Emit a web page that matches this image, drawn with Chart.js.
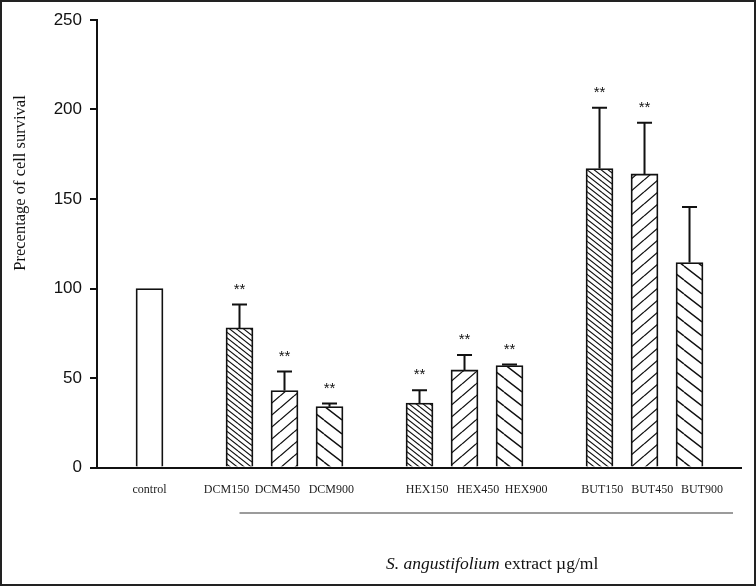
<!DOCTYPE html>
<html>
<head>
<meta charset="utf-8">
<script src="https://cdn.jsdelivr.net/npm/chart.js@4/dist/chart.umd.min.js"></script>
<style>
  html, body { margin: 0; padding: 0; background: #fff; }
  #wrap { width: 756px; height: 586px; }
</style>
</head>
<body>
<div id="wrap"><canvas id="c" width="756" height="586"></canvas></div>
<script>
// ---- data (blank categories are the gaps between extract groups) ----
const categories = ['control', '', 'DCM150', 'DCM450', 'DCM900', '', 'HEX150', 'HEX450', 'HEX900', '', 'BUT150', 'BUT450', 'BUT900'];
const survival   = [100, null, 78, 43, 34, null, 36, 54.5, 57, null, 167, 164, 114.5];
const sem        = [0, null, 13, 10.7, 1.7, null, 7.1, 8.4, 0.5, null, 34, 28.6, 31];
const signif     = ['', null, '**', '**', '**', null, '**', '**', '**', null, '**', '**', ''];
const yTicks     = [0, 50, 100, 150, 200, 250];
const yTitle     = 'Precentage of cell survival';
const xTitleItalic = 'S. angustifolium';
const xTitleRest   = ' extract \u00b5g/ml';

// layout only: horizontal nudge of each category label (in slot units), as typeset in the original
const labelNudge = [0, 0, -0.29, -0.16, 0.04, 0, 0.17, 0.3, 0.37, 0, 0.06, 0.17, 0.28];

const canvas = document.getElementById('c');
const ctx0 = canvas.getContext('2d');

function hatchPattern(w, h, n, dir, lw) {
  const c = document.createElement('canvas');
  c.width = w; c.height = h;
  const g = c.getContext('2d');
  g.fillStyle = '#fff'; g.fillRect(0, 0, w, h);
  g.strokeStyle = '#111'; g.lineWidth = lw;
  g.beginPath();
  for (let k = -n; k <= 2 * n; k++) {
    const c0 = k * h / n;
    if (dir === 'back') { g.moveTo(0, c0); g.lineTo(w, c0 + h); }
    else { g.moveTo(0, c0 + h); g.lineTo(w, c0); }
  }
  g.stroke();
  return ctx0.createPattern(c, 'repeat');
}
const patterns = {
  '150': hatchPattern(14, 11, 2, 'back', 1.1),
  '450': hatchPattern(14, 12, 1, 'fwd', 1.3),
  '900': hatchPattern(18, 14, 1, 'back', 1.4)
};
function fillFor(label) {
  const dose = label.replace(/^[A-Z]+/, '');
  return patterns[dose] || '#ffffff';
}

const points = categories.map((lab, i) => ({ x: i, y: survival[i] }));
const fills = categories.map(l => fillFor(l));
const labelIdx = categories.map((c, i) => i).filter(i => categories[i]);

const overlay = {
  id: 'overlay',
  afterDatasetsDraw(chart) {
    const { ctx, scales: { x, y } } = chart;
    const meta = chart.getDatasetMeta(0);
    ctx.save();
    ctx.strokeStyle = '#111';
    ctx.lineWidth = 2;
    meta.data.forEach((bar, i) => {
      if (survival[i] == null) return;
      let topY = bar.y;
      const e = sem[i];
      if (e > 0) {
        topY = y.getPixelForValue(survival[i] + e);
        ctx.beginPath();
        ctx.moveTo(bar.x, bar.y);
        ctx.lineTo(bar.x, topY);
        ctx.moveTo(bar.x - 7.5, topY);
        ctx.lineTo(bar.x + 7.5, topY);
        ctx.stroke();
      }
      if (signif[i]) {
        ctx.fillStyle = '#111';
        ctx.font = '15px "Liberation Sans"';
        ctx.textAlign = 'center';
        ctx.textBaseline = 'middle';
        ctx.fillText(signif[i], bar.x, topY - 15);
      }
    });
    ctx.restore();
  },
  afterDraw(chart) {
    const { ctx, chartArea, scales: { x } } = chart;
    ctx.save();
    // group underline
    ctx.strokeStyle = '#7a7a7a';
    ctx.lineWidth = 1.5;
    ctx.beginPath();
    ctx.moveTo(x.getPixelForValue(2), chartArea.bottom + 45.5);
    ctx.lineTo(x.getPixelForValue(12) + 43.5, chartArea.bottom + 45.5);
    ctx.stroke();
    // y title
    ctx.fillStyle = '#111';
    ctx.font = '16.5px "Liberation Serif"';
    ctx.textAlign = 'center';
    ctx.textBaseline = 'middle';
    ctx.translate(21, 183);
    ctx.rotate(-Math.PI / 2);
    ctx.fillText(yTitle, 0, 0);
    ctx.setTransform(1, 0, 0, 1, 0, 0);
    // x title
    ctx.textAlign = 'left';
    ctx.textBaseline = 'alphabetic';
    ctx.font = 'italic 17.5px "Liberation Serif"';
    const left = 386, base = 569;
    ctx.fillText(xTitleItalic, left, base);
    const w1 = ctx.measureText(xTitleItalic).width;
    ctx.font = '17.5px "Liberation Serif"';
    ctx.fillText(xTitleRest, left + w1, base);
    // image frame
    ctx.strokeStyle = '#222';
    ctx.lineWidth = 2;
    ctx.strokeRect(1, 1, 754, 584);
    ctx.restore();
  }
};

new Chart(canvas, {
  type: 'bar',
  data: {
    datasets: [{
      data: points,
      backgroundColor: fills,
      borderColor: '#111',
      borderWidth: 1.8,
      barThickness: 27
    }]
  },
  options: {
    responsive: false,
    animation: false,
    events: [],
    layout: { padding: { left: 0, right: 15, top: 20, bottom: 0 } },
    plugins: { legend: { display: false }, tooltip: { enabled: false } },
    scales: {
      x: {
        type: 'linear',
        offset: false,
        min: -1.1667,
        max: 13.144,
        grid: { display: false, offset: false },
        border: { display: true, color: '#111', width: 2 },
        afterBuildTicks(scale) {
          scale.ticks = labelIdx.map(i => ({ value: i + labelNudge[i] }));
        },
        afterFit(scale) { scale.height = 118.5; },
        ticks: {
          autoSkip: false,
          maxRotation: 0,
          padding: 7,
          color: '#222',
          font: { family: 'Liberation Serif', size: 12 },
          callback: (v, idx) => categories[labelIdx[idx]]
        }
      },
      y: {
        min: 0,
        max: 250,
        afterBuildTicks(scale) { scale.ticks = yTicks.map(v => ({ value: v })); },
        afterFit(scale) { scale.width = 97; },
        grid: { display: true, drawOnChartArea: false, drawTicks: true, tickLength: 7, color: '#111', lineWidth: 2 },
        border: { display: true, color: '#111', width: 2 },
        ticks: {
          padding: 8,
          color: '#111',
          font: { family: 'Liberation Sans', size: 17 }
        }
      }
    }
  },
  plugins: [overlay]
});
</script>
</body>
</html>
